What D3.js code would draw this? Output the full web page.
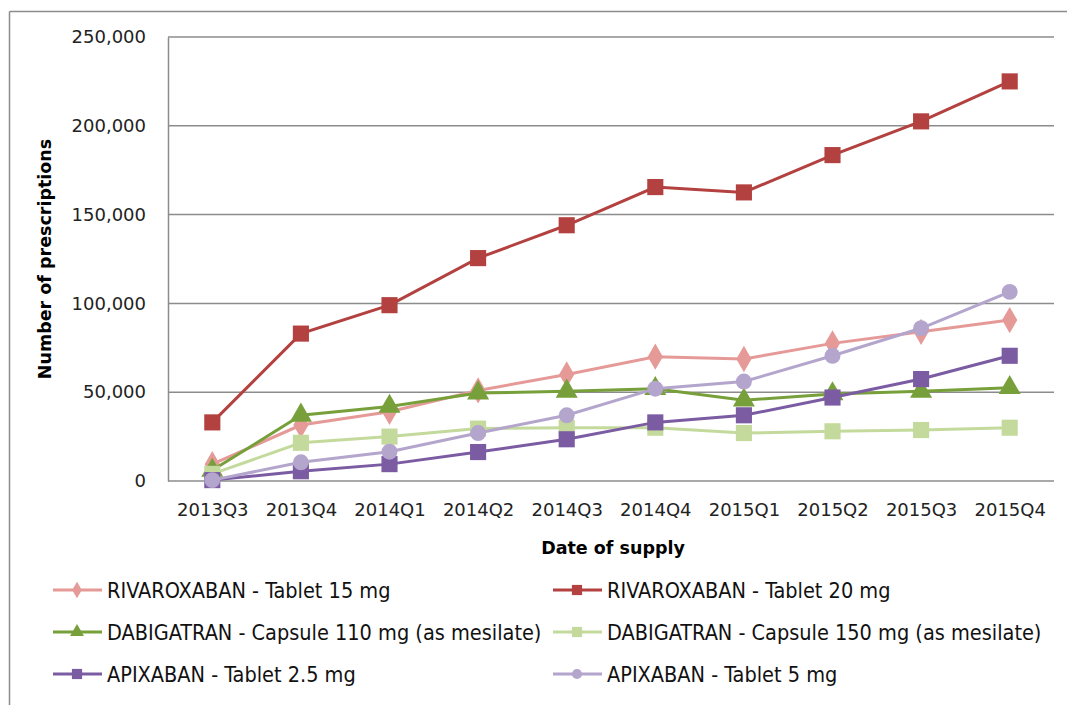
<!DOCTYPE html>
<html>
  <head>
    <meta charset="UTF-8" />
    <title>Prescriptions by quarter</title>
    <style>
      body { margin: 0; background: #fff; overflow: hidden; }
      svg { display: block; }
      .tick text { font-family: 'DejaVu Sans', Verdana, sans-serif; font-size: 18px; fill: #222; }
      .axis-title { font-family: 'DejaVu Sans', sans-serif; font-weight: bold; font-size: 17.5px; fill: #000; }
      .legend text { font-family: 'DejaVu Sans Condensed', 'Liberation Sans Narrow', 'Arial Narrow', sans-serif; font-size: 21.5px; fill: #111; }
    </style>
  </head>
  <body>
    <svg width="1067" height="705"></svg>
    <script src="https://cdnjs.cloudflare.com/ajax/libs/d3/7.8.5/d3.min.js"></script>
    <script>
      const quarters = ['2013Q3', '2013Q4', '2014Q1', '2014Q2', '2014Q3', '2014Q4', '2015Q1', '2015Q2', '2015Q3', '2015Q4'];
      const yTicks = [0, 50000, 100000, 150000, 200000, 250000];

      const riva15 = [9500, 31500, 39000, 51000, 60000, 70000, 68700, 77500, 84000, 90600];
      const riva20 = [33000, 83000, 99000, 125500, 144000, 165500, 162500, 183500, 202500, 225000];
      const dabi110 = [6000, 37000, 42000, 49500, 50500, 52000, 45500, 49000, 50500, 52500];
      const dabi150 = [4000, 21500, 25000, 29500, 30000, 30000, 27000, 28000, 28700, 30000];
      const apix25 = [500, 5500, 9500, 16300, 23500, 33000, 37000, 47000, 57400, 70500];
      const apix5 = [500, 10500, 16500, 27000, 37000, 52000, 56000, 70500, 86000, 106500];

      const series = [
        { name: 'RIVAROXABAN - Tablet 15 mg', values: riva15, color: '#E59A98', symbol: d3.symbolDiamond },
        { name: 'RIVAROXABAN - Tablet 20 mg', values: riva20, color: '#B3413F', symbol: d3.symbolSquare },
        { name: 'DABIGATRAN - Capsule 110 mg (as mesilate)', values: dabi110, color: '#77A03B', symbol: d3.symbolTriangle },
        { name: 'DABIGATRAN - Capsule 150 mg (as mesilate)', values: dabi150, color: '#C4DA9C', symbol: d3.symbolSquare },
        { name: 'APIXABAN - Tablet 2.5 mg', values: apix25, color: '#7B5CA3', symbol: d3.symbolSquare },
        { name: 'APIXABAN - Tablet 5 mg', values: apix5, color: '#B4A5CD', symbol: d3.symbolCircle },
      ];

      const svg = d3.select('svg');
      const margin = { top: 37, right: 13, bottom: 224, left: 168 };
      const width = +svg.attr('width');
      const height = +svg.attr('height');
      const innerWidth = width - margin.left - margin.right;
      const innerHeight = height - margin.top - margin.bottom;

      // outer frame (only top and left edges are inside the picture)
      const frame = svg.append('g').attr('stroke', '#8c8c8c').attr('stroke-width', 1.5);
      frame.append('line').attr('x1', 9.5).attr('x2', width).attr('y1', 11.5).attr('y2', 11.5);
      frame.append('line').attr('x1', 9.5).attr('x2', 9.5).attr('y1', 11.5).attr('y2', height);

      const xScale = d3.scalePoint().domain(quarters).range([0, innerWidth]).padding(0.5);
      const yScale = d3.scaleLinear().domain([0, 250000]).range([innerHeight, 0]);

      const g = svg.append('g').attr('transform', `translate(${margin.left},${margin.top})`);

      // gridlines
      g.append('g')
        .selectAll('line')
        .data(yTicks)
        .join('line')
        .attr('x1', 0)
        .attr('x2', innerWidth)
        .attr('y1', (d) => yScale(d))
        .attr('y2', (d) => yScale(d))
        .attr('stroke', '#8c8c8c')
        .attr('stroke-width', 1.5);

      const yAxisG = g.append('g')
        .call(d3.axisLeft(yScale).tickValues(yTicks).tickFormat(d3.format(',')).tickSize(0).tickPadding(22));
      yAxisG.select('.domain').attr('stroke', '#8c8c8c').attr('stroke-width', 1.5);

      const xAxisG = g.append('g')
        .attr('transform', `translate(0,${innerHeight})`)
        .call(d3.axisBottom(xScale).tickSize(0).tickPadding(22));
      xAxisG.select('.domain').remove();

      g.append('text')
        .attr('class', 'axis-title')
        .attr('x', 613 - margin.left)
        .attr('y', innerHeight + 73)
        .attr('text-anchor', 'middle')
        .text('Date of supply');

      g.append('text')
        .attr('class', 'axis-title')
        .attr('transform', `translate(${51 - margin.left},${259 - margin.top}) rotate(-90)`)
        .attr('text-anchor', 'middle')
        .text('Number of prescriptions');

      const line = d3.line()
        .x((d, i) => xScale(quarters[i]))
        .y((d) => yScale(d));

      const symSize = (s) => (s === d3.symbolCircle ? 200 : s === d3.symbolSquare ? 260 : s === d3.symbolDiamond ? 200 : 210);

      series.forEach((s) => {
        g.append('path')
          .datum(s.values)
          .attr('fill', 'none')
          .attr('stroke', s.color)
          .attr('stroke-width', 3)
          .attr('d', line);

        g.append('g')
          .selectAll('path')
          .data(s.values)
          .join('path')
          .attr('transform', (d, i) => `translate(${xScale(quarters[i])},${yScale(d)})`)
          .attr('d', d3.symbol().type(s.symbol).size(symSize(s.symbol)))
          .attr('fill', s.color);
      });

      // legend, two columns
      const legend = svg.append('g').attr('class', 'legend');
      const item = legend.selectAll('g')
        .data(series)
        .join('g')
        .attr('transform', (d, i) => `translate(${i % 2 === 0 ? 53 : 553},${590 + Math.floor(i / 2) * 42})`);

      item.append('line')
        .attr('x1', 0).attr('x2', 49)
        .attr('stroke', (d) => d.color)
        .attr('stroke-width', 3);

      item.append('path')
        .attr('transform', 'translate(24,0)')
        .attr('d', (d) => d3.symbol().type(d.symbol).size(symSize(d.symbol) * 0.4)())
        .attr('fill', (d) => d.color);

      item.append('text')
        .attr('x', 54)
        .attr('dy', '0.36em')
        .text((d) => d.name);
    </script>
  </body>
</html>
